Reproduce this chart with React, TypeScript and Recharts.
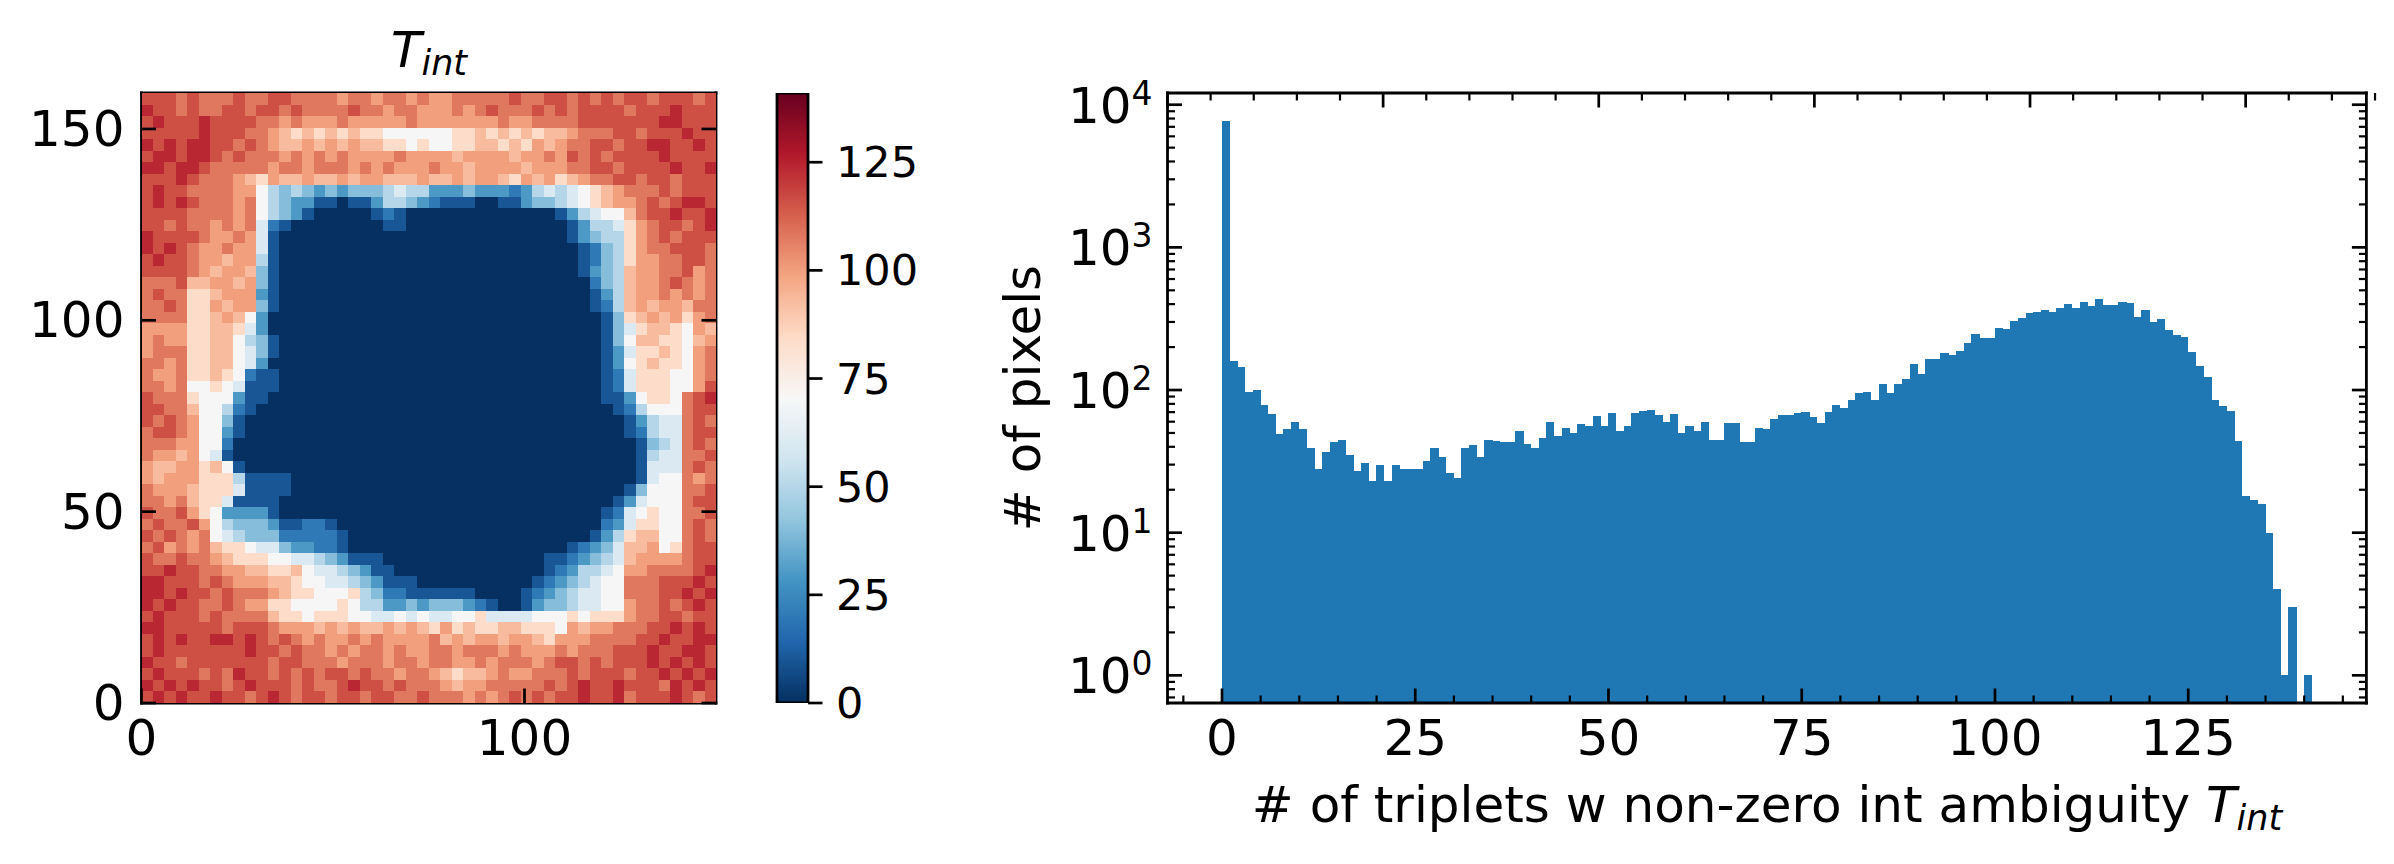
import React from 'react';
import {
  ScatterChart, Scatter, BarChart, Bar, ComposedChart, XAxis, YAxis, ReferenceArea,
} from 'recharts';

// ---------- data ----------
const binCounts = [
  7720, 160, 146, 97, 100, 79, 68, 49, 53, 60,
  53, 39, 28, 37, 43, 45, 35, 27, 31, 23,
  30, 23, 30, 28, 28, 28, 32, 39, 34, 26,
  24, 39, 41, 34, 45, 44, 43, 43, 52, 42,
  39, 46, 60, 48, 54, 50, 58, 56, 66, 56,
  69, 52, 56, 69, 71, 73, 67, 60, 68, 50,
  56, 52, 60, 45, 45, 59, 59, 43, 43, 54,
  53, 63, 67, 67, 69, 70, 65, 59, 70, 79,
  75, 85, 96, 97, 85, 111, 96, 111, 120, 153,
  130, 166, 166, 182, 177, 188, 214, 248, 232, 232,
  273, 269, 306, 321, 348, 354, 365, 354, 377, 403,
  377, 416, 390, 437, 396, 396, 416, 409, 326, 365,
  301, 316, 264, 244, 236, 185, 148, 124, 85, 77,
  71, 44, 18, 17, 16, 10, 4, 1, 3, 0, 1,
];

const histXMajor = [0, 25, 50, 75, 100, 125];
const histXMinor = [-5, 5, 10, 15, 20, 30, 35, 40, 45, 55, 60, 65, 70, 80, 85, 90, 95, 105, 110, 115, 120, 130, 135, 140, 145];
const histYMajor = [1, 10, 100, 1000, 10000];
const histYMinor = [
  0.7, 0.8, 0.9,
  2, 3, 4, 5, 6, 7, 8, 9,
  20, 30, 40, 50, 60, 70, 80, 90,
  200, 300, 400, 500, 600, 700, 800, 900,
  2000, 3000, 4000, 5000, 6000, 7000, 8000, 9000,
];
const heatXTicks = [0, 100];
const heatYTicks = [0, 50, 100, 150];
const cbarTicks = [0, 25, 50, 75, 100, 125];

const cmapStops = ['#053061', '#2166ac', '#4393c3', '#92c5de', '#d1e5f0', '#f7f7f7', '#fddbc7', '#f4a582', '#d6604d', '#b2182b', '#67001f'];

// Value of each level character used in heatRows.
const heatLevels: Record<string, number> = {
  0: 0, 1: 10, 2: 20, 3: 30, 4: 40, 5: 50, 6: 60, 7: 70, 8: 84, 9: 93,
  a: 100, b: 108, c: 116, d: 124, e: 140,
};

// Each character is one 3x3 block of the map, top row first.
const heatRows = [
  'cccbcbbbcb bccbbbbabb abbabaabbb bbcbbccbcb cbccbcccbc',
  'dccbcbbccb ccbcbbbbcb babbaaabab cbbbcbcbcc ccbcccdccc',
  'cdcccdcccc bbabaaabaa aaabaaaaaa abaabbbbcc cccccddccc',
  'cccccdcccb ba98989898 8777777889 8989899abb bccbcccdcc',
  'dcdcddccbc ba99a9a9a9 9887877889 9898a9abbc cbccddccdc',
  'cddcddcbcb bbabababaa aabaaaa9aa aa9aabacbc bccccdcccc',
  'ddcddcbbbb babbabbbab abaaabaa9a aaa9aaabbc cbccccdccd',
  'cccdcbbba9 8a99a99a9a a999a99a9a a98a9a89ab bccbccbccc',
  'cdccbbbbaa 7545434344 4565533343 3323565678 9abbbcbccc',
  'cdcdcbbbab 7543311011 3554321110 0113445678 9aabcbcddc',
  'ccccbbbbab 7543100000 1210000000 0000001356 779bccdccd',
  'ccbcbbabab 6210000000 0110000000 0000000135 568abccbcd',
  'dccccbaaba 6100000000 0000000000 0000000134 558abcbccc',
  'dcdcbaabaa 6100000000 0000000000 0000000012 458abbcccb',
  'cdccbaa9aa 5100000000 0000000000 0000000012 458aabbccb',
  'ccccba9aa9 4100000000 0000000000 0000000013 459aabbcab',
  'bbbc99aa9a 4100000000 0000000000 0000000002 459aabcbab',
  'bcbb889aaa 3100000000 0000000000 0000000001 359aababab',
  'bbcb88a9aa 4100000000 0000000000 0000000001 259a9aa9bb',
  'bbbb889a97 3000000000 0000000000 0000000000 1489a9a8ab',
  'aaaa889986 3000000000 0000000000 0000000000 14689987a9',
  'abaa889975 4100000000 0000000000 0000000000 147998879a',
  'abbb889976 4100000000 0000000000 0000000000 13688987ab',
  'bbab889976 3000000000 0000000000 0000000000 13789887ab',
  'baab889872 1100000000 0000000000 0000000000 12688877ab',
  'bbab778761 1100000000 0000000000 0000000000 12688877ac',
  'cbbb877731 1000000000 0000000000 0000000000 1137887bcd',
  'ccbb977521 0000000000 0000000000 0000000000 0125777bcc',
  'cbcba77410 0000000000 0000000000 0000000000 0013566bcb',
  'bccba77310 0000000000 0000000000 0000000000 0012566bcc',
  'bbbaa77200 0000000000 0000000000 0000000000 0001456bcb',
  'baa9a76100 0000000000 0000000000 0000000000 0001566bbc',
  'a99aa89710 0000000000 0000000000 0000000000 0001666bcb',
  'a9aaa88851 1110000000 0000000000 0000000000 0001677bab',
  'baaa988861 1110000000 0000000000 0000000000 0014777bbc',
  'bbab988611 1100000000 0000000000 0000000000 0136777bcc',
  'cbbca87333 3100000000 0000000000 0000000000 1267877bbc',
  'bcbbca7544 4311221000 0000000000 0000000000 2368877bcb',
  'cbcbab7654 4422222100 0000000000 0000000001 3589977bcb',
  'bcabab9887 6643322100 0000000000 0000000123 4699a78bcc',
  'cbbcbba988 8776654311 1000000000 0000011234 569aaaabcc',
  'ccdccbbaa9 9889766543 1100000000 0000012355 67aabbbbcd',
  'ddcccbcbaa a998776654 3111000000 0000123456 77bbbcccdc',
  'ddcdccbcbb ba98877785 4221111110 0001234566 77bbbccdcd',
  'dcdccbbcba a887777875 5334344432 1001344566 77abbcbcdc',
  'cdcccbcbbb b988788877 6676766778 6666777878 88abbccbcc',
  'ddcccccbcc cbaaa9a9a9 9a9a98a898 8998887a9a abbbccdcdc',
  'cdcdccddcd cbcbabaaba baaaab9a9a a9aa98aaab bbbccdccdd',
  'cdcccccccd ccbcbbabab babaabbabb babaaababb bcccdccddc',
  'dccbcccccc cbccbbbabb babbabbaab abbbabccbc bcccdcdcdc',
  'cdcccbcbdc cbcbcbccbc bbabba9899 abaabbbcbc ccbccdcdcd',
  'dcdcdccbcd cccbcbbcdc cbcbbba9aa bbbbbcbcdc cdcccbdcdc',
  'cdcdccdccb cdcbccbccb ccbbcbbbab abcbcbccdc cdbcccdcbc',
];

// Thin features inside the dark area: [x0, x1, y0, y1, value]
const streaks = [
  [86.5, 88, 86, 96, 35],
  [33.8, 35.5, 103, 108, 30],
  [36.8, 39.6, 58.8, 63.5, 35],
  [37, 38.3, 68, 79.7, 15],
  [45.4, 46.2, 72.6, 77, 35],
  [84.2, 85.5, 66, 71.3, 15],
  [89.3, 91.5, 26.8, 30.7, 55],
  [88.8, 89.4, 125.8, 127.6, 30],
];
const missingBlock = [80, 84, 28, 32];

// ---------- helpers ----------
const W = 2394;
const H = 864;
const BLACK = '#000';
const MAJOR_LEN = 14.5;
const MINOR_LEN = 7.5;
const MAJOR_W = 2.7;
const MINOR_W = 2.2;
const SPINE = 2.8;
const TICK_FONT = 50;
const LABEL_FONT = 50;
const CBAR_FONT = 43;
const FONT = '"DejaVu Sans", sans-serif';

const hexPart = (h: string, i: number) => parseInt(h.slice(1 + i * 2, 3 + i * 2), 16);
function colorFor(v: number, max = 141) {
  const t = Math.max(0, Math.min(1, v / max)) * (cmapStops.length - 1);
  const k = Math.min(cmapStops.length - 2, Math.floor(t));
  const f = t - k;
  const c = [0, 1, 2].map((i) => Math.round(hexPart(cmapStops[k], i) * (1 - f) + hexPart(cmapStops[k + 1], i) * f));
  return `rgb(${c[0]},${c[1]},${c[2]})`;
}

const HEAT_X_MAX = 150;
const HEAT_Y_MAX = 159.4;
const HEAT_BOX = { left: 141.5, right: 716, top: 93, bottom: 703 };
const HIST_BOX = { left: 1167.5, right: 2366.4, top: 93, bottom: 703 };
const CBAR_BOX = { left: 777, right: 808, top: 93, bottom: 703 };
// Every axis reserves one pixel (a zero-sized axis is not drawn), so the margins give that pixel back.
const boxMargin = (b: { left: number; right: number; top: number; bottom: number }) => ({
  left: b.left - 1, right: W - b.right - 1, top: b.top - 1, bottom: H - b.bottom - 1,
});

const cleanRows = heatRows.map((r) => r.replace(/ /g, ''));
const blockH = HEAT_Y_MAX / cleanRows.length;
const heatCells = cleanRows.flatMap((row, r) =>
  row.split('').map((ch, c) => ({
    x: (c + 0.5) * 3,
    y: (cleanRows.length - r - 0.5) * blockH,
    v: heatLevels[ch],
  })),
);

const pxX = (3 * (HEAT_BOX.right - HEAT_BOX.left)) / HEAT_X_MAX;
const pxY = (blockH * (HEAT_BOX.bottom - HEAT_BOX.top)) / HEAT_Y_MAX;
function HeatBlock(p: any) {
  const v = p.payload?.v ?? p.v;
  return (
    <rect
      x={p.cx - pxX / 2}
      y={p.cy - pxY / 2}
      width={pxX + 0.5}
      height={pxY + 0.5}
      fill={colorFor(v)}
      shapeRendering="crispEdges"
    />
  );
}

const histData = binCounts
  .map((n, i) => ({ x: i + 0.5, n }))
  .filter((d) => d.n > 0);

const BIN_PX = (HIST_BOX.right - HIST_BOX.left) / 155.1;
function HistBar(p: any) {
  const cx = p.x + p.width / 2;
  return <rect x={cx - BIN_PX / 2} y={p.y} width={BIN_PX + 0.5} height={p.height} fill="#1f77b4" shapeRendering="crispEdges" />;
}

const isIn = (list: number[], v: number) => list.includes(v);

function bottomTick(major: number[]) {
  return (p: any) => {
    const v = p.payload.value;
    const m = isIn(major, v);
    return (
      <g>
        <line x1={p.x} x2={p.x} y1={p.y} y2={p.y - (m ? MAJOR_LEN : MINOR_LEN)} stroke={BLACK} strokeWidth={m ? MAJOR_W : MINOR_W} />
        {m && (
          <text x={p.x} y={p.y + 52} textAnchor="middle" fontSize={TICK_FONT} fontFamily={FONT} fill={BLACK}>{v}</text>
        )}
      </g>
    );
  };
}
function topTick(major: number[]) {
  return (p: any) => {
    const m = isIn(major, p.payload.value);
    return <line x1={p.x} x2={p.x} y1={p.y} y2={p.y + (m ? MAJOR_LEN : MINOR_LEN)} stroke={BLACK} strokeWidth={m ? MAJOR_W : MINOR_W} />;
  };
}
function rightTick(major: number[]) {
  return (p: any) => {
    const m = isIn(major, p.payload.value);
    return <line x1={p.x} x2={p.x - (m ? MAJOR_LEN : MINOR_LEN)} y1={p.y} y2={p.y} stroke={BLACK} strokeWidth={m ? MAJOR_W : MINOR_W} />;
  };
}
function heatLeftTick(p: any) {
  return (
    <g>
      <line x1={p.x} x2={p.x + MAJOR_LEN} y1={p.y} y2={p.y} stroke={BLACK} strokeWidth={MAJOR_W} />
      <text x={p.x - 17} y={p.y + 17} textAnchor="end" fontSize={TICK_FONT} fontFamily={FONT} fill={BLACK}>{p.payload.value}</text>
    </g>
  );
}
function histLeftTick(p: any) {
  const v = p.payload.value;
  const m = isIn(histYMajor, v);
  const exp = Math.round(Math.log10(v));
  return (
    <g>
      <line x1={p.x} x2={p.x + (m ? MAJOR_LEN : MINOR_LEN)} y1={p.y} y2={p.y} stroke={BLACK} strokeWidth={m ? MAJOR_W : MINOR_W} />
      {m && (
        <text x={p.x - 15} y={p.y + 18} textAnchor="end" fontSize={TICK_FONT} fontFamily={FONT} fill={BLACK}>
          10
          <tspan dy={-18} fontSize={33}>{exp}</tspan>
        </text>
      )}
    </g>
  );
}
function cbarTick(p: any) {
  return (
    <g>
      <line x1={p.x} x2={p.x + MAJOR_LEN} y1={p.y} y2={p.y} stroke={BLACK} strokeWidth={MAJOR_W} />
      <text x={p.x + 28} y={p.y + 15} textAnchor="start" fontSize={CBAR_FONT} fontFamily={FONT} fill={BLACK}>{p.payload.value}</text>
    </g>
  );
}

const spine = { stroke: BLACK, strokeWidth: SPINE, strokeLinecap: 'square' as const };
const layer: React.CSSProperties = { position: 'absolute', left: 0, top: 0 };

const cbarData = [{ name: 'T', top: 141 }];

export default function App() {
  return (
    <div style={{ position: 'absolute', left: 0, top: 0, width: W, height: H, background: '#fff', overflow: 'hidden' }}>
      {/* T_int map */}
      <div style={layer}>
        <ScatterChart width={W} height={H} margin={boxMargin(HEAT_BOX)}>
          <XAxis type="number" dataKey="x" domain={[0, HEAT_X_MAX]} ticks={heatXTicks} interval={0} height={1} tickSize={0} tickMargin={0} tickLine={false} axisLine={spine} tick={bottomTick(heatXTicks)} allowDataOverflow />
          <XAxis type="number" xAxisId="t" orientation="top" domain={[0, HEAT_X_MAX]} ticks={heatXTicks} interval={0} height={1} tickSize={0} tickMargin={0} tickLine={false} axisLine={spine} tick={topTick(heatXTicks)} allowDataOverflow />
          <YAxis type="number" dataKey="y" domain={[0, HEAT_Y_MAX]} ticks={heatYTicks} interval={0} width={1} tickSize={0} tickMargin={0} tickLine={false} axisLine={spine} tick={heatLeftTick} allowDataOverflow />
          <YAxis type="number" yAxisId="r" orientation="right" domain={[0, HEAT_Y_MAX]} ticks={heatYTicks} interval={0} width={1} tickSize={0} tickMargin={0} tickLine={false} axisLine={spine} tick={rightTick(heatYTicks)} allowDataOverflow />
          <Scatter data={heatCells} shape={HeatBlock} isAnimationActive={false} />
          {streaks.map((s, i) => (
            <ReferenceArea key={i} x1={s[0]} x2={s[1]} y1={s[2]} y2={s[3]} fill={colorFor(s[4])} fillOpacity={1} stroke="none" />
          ))}
          <ReferenceArea x1={missingBlock[0]} x2={missingBlock[1]} y1={missingBlock[2]} y2={missingBlock[3]} fill="#fff" fillOpacity={1} stroke="none" />
        </ScatterChart>
      </div>

      {/* colour bar */}
      <div style={layer}>
        <BarChart
          width={W}
          height={H}
          margin={{ left: CBAR_BOX.left, right: W - CBAR_BOX.right - 1, top: CBAR_BOX.top, bottom: H - CBAR_BOX.bottom }}
          data={cbarData}
          barCategoryGap={0}
        >
          <defs>
            <linearGradient id="cmapGrad" x1="0" y1="1" x2="0" y2="0">
              {cmapStops.map((c, i) => (
                <stop key={c} offset={i / (cmapStops.length - 1)} stopColor={c} />
              ))}
            </linearGradient>
          </defs>
          <XAxis dataKey="name" hide />
          <YAxis type="number" orientation="right" domain={[0, 141]} ticks={cbarTicks} interval={0} width={1} tickSize={0} tickMargin={0} tickLine={false} axisLine={false} tick={cbarTick} allowDataOverflow />
          <Bar dataKey="top" fill="url(#cmapGrad)" stroke={BLACK} strokeWidth={SPINE} isAnimationActive={false} />
        </BarChart>
      </div>

      {/* histogram */}
      <div style={layer}>
        <ComposedChart width={W} height={H} margin={boxMargin(HIST_BOX)} data={histData}>
          <XAxis type="number" dataKey="x" domain={[-7.05, 148.05]} ticks={[...histXMajor, ...histXMinor]} interval={0} height={1} tickSize={0} tickMargin={0} tickLine={false} axisLine={spine} tick={bottomTick(histXMajor)} allowDataOverflow />
          <XAxis type="number" xAxisId="t" orientation="top" domain={[-7.05, 148.05]} ticks={[...histXMajor, ...histXMinor]} interval={0} height={1} tickSize={0} tickMargin={0} tickLine={false} axisLine={spine} tick={topTick(histXMajor)} allowDataOverflow />
          <YAxis type="number" scale="log" domain={[0.64, 12080]} ticks={[...histYMajor, ...histYMinor]} interval={0} width={1} tickSize={0} tickMargin={0} tickLine={false} axisLine={spine} tick={histLeftTick} allowDataOverflow />
          <YAxis type="number" yAxisId="r" orientation="right" scale="log" domain={[0.64, 12080]} ticks={[...histYMajor, ...histYMinor]} interval={0} width={1} tickSize={0} tickMargin={0} tickLine={false} axisLine={spine} tick={rightTick(histYMajor)} allowDataOverflow />
          <Bar dataKey="n" fill="#1f77b4" barSize={8} shape={HistBar} isAnimationActive={false} />
        </ComposedChart>
      </div>

      {/* title and axis labels */}
      <svg width={W} height={H} style={{ ...layer, pointerEvents: 'none' }}>
        <text x={429} y={67} textAnchor="middle" fontSize={LABEL_FONT} fontFamily={FONT} fontStyle="italic" fill={BLACK}>
          T<tspan dy={8} fontSize={35}>int</tspan>
        </text>
        <text x={1767} y={822} textAnchor="middle" fontSize={LABEL_FONT} fontFamily={FONT} fill={BLACK}>
          # of triplets w non-zero int ambiguity <tspan fontStyle="italic">T</tspan><tspan dy={8} fontSize={35} fontStyle="italic">int</tspan>
        </text>
        <text transform="translate(1040 398) rotate(-90)" textAnchor="middle" fontSize={LABEL_FONT} fontFamily={FONT} fill={BLACK}>
          # of pixels
        </text>
      </svg>
    </div>
  );
}
